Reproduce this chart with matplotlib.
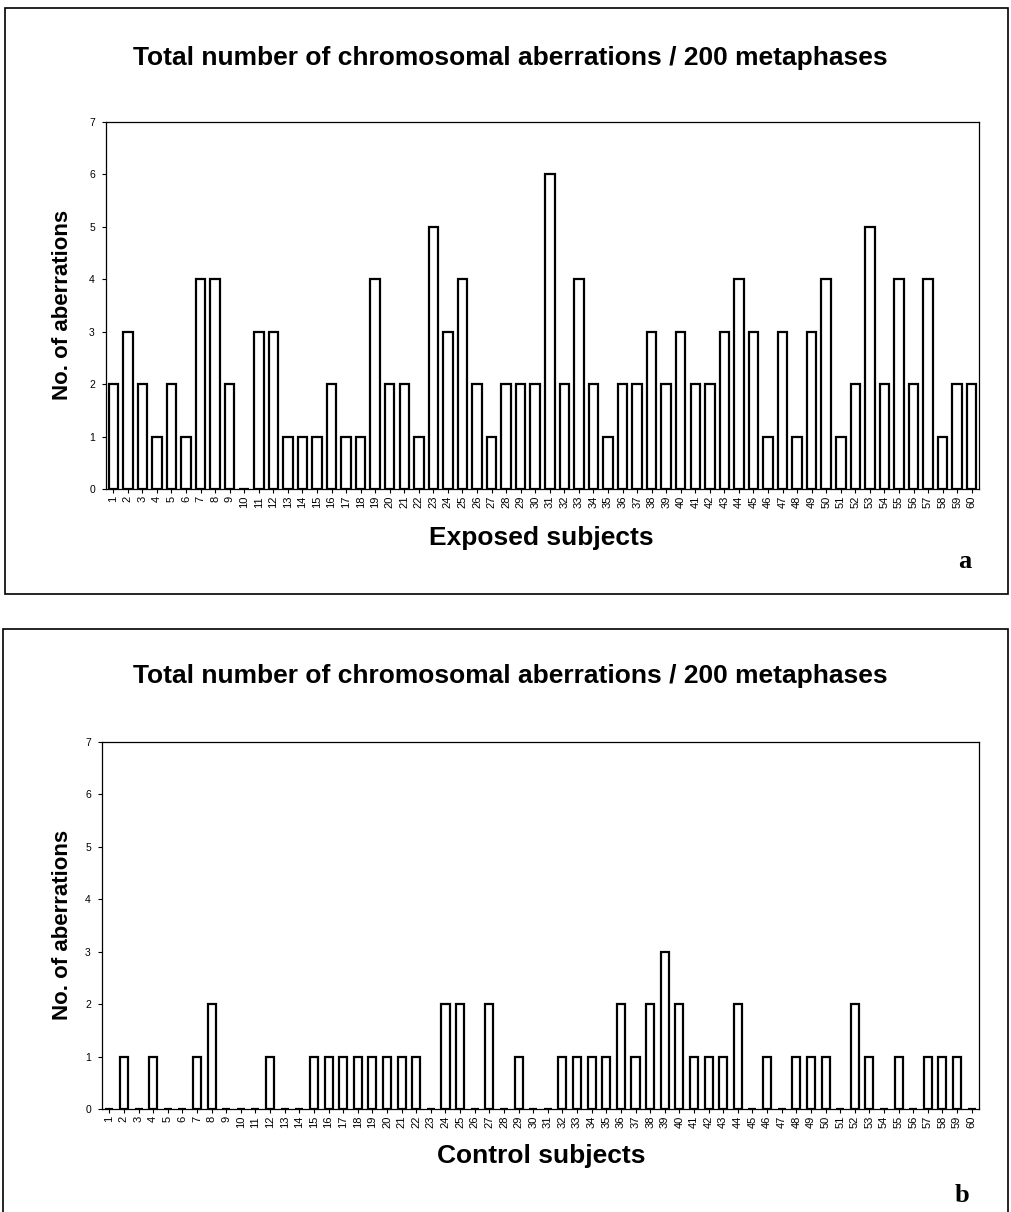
import numpy as np
import matplotlib.pyplot as plt
from matplotlib.patches import Rectangle

# number of chromosomal aberrations per subject (200 metaphases each)
subjects = list(range(1, 61))
exposed = [2, 3, 2, 1, 2, 1, 4, 4, 2, 0,
           3, 3, 1, 1, 1, 2, 1, 1, 4, 2,
           2, 1, 5, 3, 4, 2, 1, 2, 2, 2,
           6, 2, 4, 2, 1, 2, 2, 3, 2, 3,
           2, 2, 3, 4, 3, 1, 3, 1, 3, 4,
           1, 2, 5, 2, 4, 2, 4, 1, 2, 2]
control = [0, 1, 0, 1, 0, 0, 1, 2, 0, 0,
           0, 1, 0, 0, 1, 1, 1, 1, 1, 1,
           1, 1, 0, 2, 2, 0, 2, 0, 1, 0,
           0, 1, 1, 1, 1, 2, 1, 2, 3, 2,
           1, 1, 1, 2, 0, 1, 0, 1, 1, 1,
           0, 2, 1, 0, 1, 0, 1, 1, 1, 0]
y_ticks = list(range(0, 8))

title = "Total number of chromosomal aberrations / 200 metaphases"

plt.rcParams['font.family'] = ['Liberation Sans', 'DejaVu Sans']

W, H = 1011, 1212
fig = plt.figure(figsize=(W / 100, H / 100), dpi=100)


def fx(px):
    return px / W


def fy(py):
    return 1 - py / H


panels = [
    dict(vals=exposed, xlabel="Exposed subjects", letter="a",
         ax=(106, 122, 979, 489), frame=(5, 8, 1008, 594),
         title_y=58, ylab_y=305, xlab_y=538, letter_xy=(965, 562), bw=0.65),
    dict(vals=control, xlabel="Control subjects", letter="b",
         ax=(102, 742, 979, 1109), frame=(3, 629, 1008, 1216),
         title_y=676, ylab_y=925, xlab_y=1156, letter_xy=(962, 1195), bw=0.55),
]

for p in panels:
    l, t, r, b = p['ax']
    ax = fig.add_axes([fx(l), fy(b), fx(r) - fx(l), fy(t) - fy(b)])
    ax.bar(subjects, p['vals'], width=p['bw'], color='white',
           edgecolor='black', linewidth=1.6)
    ax.set_xlim(0.5, 60.5)
    ax.set_ylim(0, 7)
    ax.set_yticks(y_ticks)
    ax.set_xticks(subjects)
    ax.set_xticklabels([str(s) for s in subjects], rotation=90, fontsize=8)
    ax.tick_params(axis='y', labelsize=7.5, length=3, width=0.8, pad=5)
    ax.tick_params(axis='x', length=3, width=0.8, pad=2)
    for s in ax.spines.values():
        s.set_linewidth(0.9)

    fig.text(0.505, fy(p['title_y']), title, ha='center', va='center',
             fontsize=19, fontweight='bold')
    fig.text(fx(62), fy(p['ylab_y']), "No. of aberrations", rotation=90,
             ha='center', va='center', fontsize=16, fontweight='bold')
    fig.text(fx(541), fy(p['xlab_y']), p['xlabel'], ha='center', va='center',
             fontsize=19, fontweight='bold')
    lx, ly = p['letter_xy']
    fig.text(fx(lx), fy(ly), p['letter'], ha='center', va='center',
             fontsize=19, fontweight='bold', family='Liberation Serif')

    fl, ft, fr, fb = p['frame']
    fig.add_artist(Rectangle((fx(fl), fy(fb)), fx(fr) - fx(fl), fy(ft) - fy(fb),
                             transform=fig.transFigure, fill=False,
                             edgecolor='black', linewidth=1.2))

fig.savefig('out.png', dpi=100)
